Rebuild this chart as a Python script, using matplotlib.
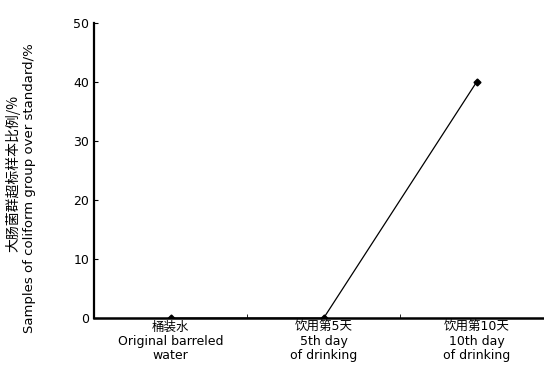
import matplotlib.pyplot as plt
from matplotlib.ticker import FixedLocator

plt.rcParams['font.family'] = ['DejaVu Sans', 'Noto Sans CJK SC']

categories = ["桶装水\nOriginal barreled\nwater",
              "饮用第5天\n5th day\nof drinking",
              "饮用第10天\n10th day\nof drinking"]
values = [0, 0, 40]
y_ticks = [0, 10, 20, 30, 40, 50]

fig = plt.figure(figsize=(5.44, 3.81), dpi=100)
ax = fig.add_axes([0.173, 0.165, 0.827, 0.775])

x = list(range(1, len(values) + 1))
ax.plot(x, values, color="black", linewidth=0.9, marker="D", markersize=3.5)

ax.set_xlim(0.5, 3.44)
ax.set_ylim(0, 50)
ax.set_yticks(y_ticks)
ax.set_xticks(x)
ax.set_xticklabels(categories, fontsize=9, linespacing=1.1,
                   family=['DejaVu Sans', 'Noto Sans CJK SC'])
ax.xaxis.set_minor_locator(FixedLocator([1.5, 2.5, 3.5]))
ax.tick_params(axis="x", which="major", length=0, pad=2)
ax.tick_params(axis="x", which="minor", direction="in", length=3)
ax.tick_params(axis="y", direction="in", length=3, labelsize=9)

ax.spines["top"].set_visible(False)
ax.spines["right"].set_visible(False)
ax.spines["left"].set_linewidth(1.6)
ax.spines["bottom"].set_linewidth(1.8)

fig.text(0.024, 0.545, "大肠菌群超标样本比例/%", rotation=90, ha="center", va="center",
         fontsize=10, family=['Noto Sans CJK SC', 'DejaVu Sans'])
fig.text(0.054, 0.505, "Samples of coliform group over standard/%", rotation=90,
         ha="center", va="center", fontsize=9.5)

fig.savefig("out.png", dpi=100)
